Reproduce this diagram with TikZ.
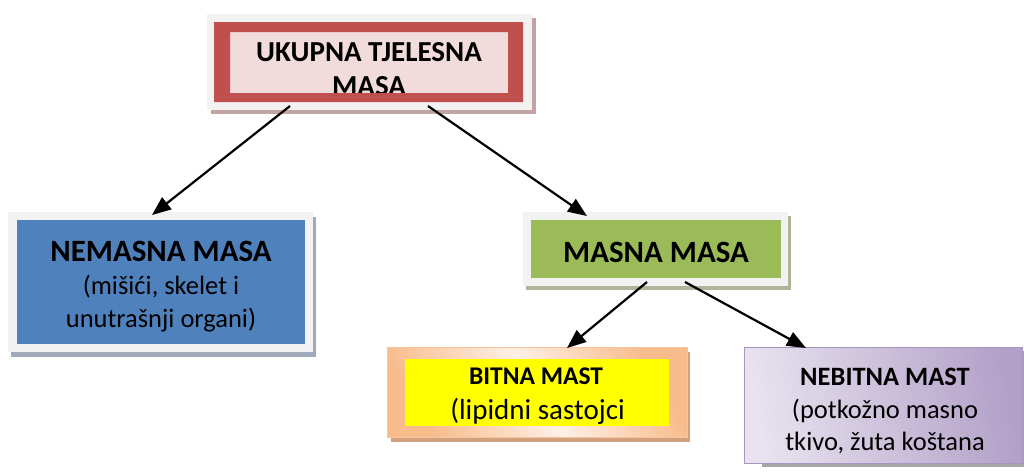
\documentclass[tikz,border=0pt]{standalone}
\usepackage{fontspec}
\setmainfont{Carlito}
\usetikzlibrary{arrows.meta,calc}
\definecolor{framegray}{HTML}{F2F2F2}
\definecolor{redc}{HTML}{C0504D}
\definecolor{pinkc}{HTML}{F2DCDB}
\definecolor{topshadow}{HTML}{C2A4A4}
\definecolor{bluec}{HTML}{4F81BD}
\definecolor{nemshadow}{HTML}{9FAABB}
\definecolor{greenc}{HTML}{9BBB59}
\definecolor{masshadow}{HTML}{AEB59B}
\definecolor{yellowc}{HTML}{FFFF00}
\definecolor{peachd}{HTML}{F8BC8C}
\definecolor{peachl}{HTML}{FDF0E6}
\definecolor{peachb}{HTML}{F5C4A0}
\definecolor{bitshadow}{HTML}{D2A07C}
\definecolor{lavl}{HTML}{E8E3EF}
\definecolor{lavd}{HTML}{B2A0C8}
\definecolor{lavb}{HTML}{A994C2}
\definecolor{nebshadow}{HTML}{A6A6A6}
\tikzset{
  boxframe/.style={rectangle, inner sep=0pt, outer sep=0pt},
  bigbold/.style={font=\fontsize{31}{36}\selectfont\bfseries, anchor=base, inner sep=0pt},
  topbold/.style={font=\fontsize{29}{34}\selectfont\bfseries, anchor=base, inner sep=0pt},
  smallbold/.style={font=\fontsize{25.5}{30}\selectfont\bfseries, anchor=base, inner sep=0pt},
  reg/.style={font=\fontsize{26.5}{32}\selectfont, anchor=base, inner sep=0pt},
  arr/.style={line width=2.2pt, -{Triangle[length=19pt,width=15pt]}},
}
\begin{document}
\begin{tikzpicture}[x=1pt,y=-1pt]
\useasboundingbox (0,0) rectangle (1024,472);
% ---- top box
\fill[topshadow] (211,18) rectangle (536,114);
\node[boxframe, fill=framegray, minimum width=325pt, minimum height=96pt] (top) at (369.5,62) {};
\fill[redc] (214,22) rectangle (523,102);
\fill[pinkc] (230,32) rectangle (508,93);
\node[topbold] (top1) at (369,61) {UKUPNA TJELESNA};
\node[topbold] (top2) at (369,95) {MASA};
\fill[redc, even odd rule] (214,22) rectangle (523,102) (230,32) rectangle (508,93);
% ---- nemasna
\fill[nemshadow] (11,217) rectangle (316,357);
\node[boxframe, fill=framegray, minimum width=305pt, minimum height=140pt] (nem) at (160.5,282) {};
\fill[bluec] (17,220) rectangle (305,344);
\node[bigbold] (nem1) at (161,261) {NEMASNA MASA};
\node[reg] (nem2) at (161,294) {(mišići, skelet i};
\node[reg] (nem3) at (161,327) {unutrašnji organi)};
% ---- masna
\fill[masshadow] (526,216) rectangle (791,290);
\node[boxframe, fill=framegray, minimum width=265pt, minimum height=74pt] (mas) at (655.5,249) {};
\fill[greenc] (531,220) rectangle (781,278);
\node[bigbold] (mas1) at (656,262) {MASNA MASA};
% ---- bitna
\fill[bitshadow] (391,352) rectangle (690,442);
\node[boxframe, draw=peachb, line width=1pt, left color=peachd, right color=peachd, middle color=peachl, shading angle=120, minimum width=300pt, minimum height=90pt] (bit) at (537,392) {};
\fill[yellowc] (405,359) rectangle (669,426);
\node[smallbold] (bit1) at (536,384) {BITNA MAST};
\node[reg, font=\fontsize{29}{34}\selectfont] (bit2) at (537.5,419) {(lipidni sastojci};
% ---- nebitna
\fill[nebshadow] (762,351) rectangle (1026,467);
\node[boxframe, draw=lavb, line width=0.8pt, left color=lavl, right color=lavd, shading angle=100, minimum width=278pt, minimum height=116pt] (neb) at (883,405) {};
\node[smallbold, font=\fontsize{26.5}{32}\selectfont\bfseries] (neb1) at (885,385) {NEBITNA MAST};
\node[reg] (neb2) at (885,418) {(potkožno masno};
\node[reg] (neb3) at (885,450) {tkivo, žuta koštana};
% ---- arrows
\draw[arr] ([xshift=-79.5pt,yshift=4pt]top.south) -- ([xshift=-8.5pt,yshift=-3pt]nem.north);
\draw[arr] ([xshift=58.5pt,yshift=4pt]top.south) -- ([xshift=-68.5pt,yshift=-4pt]mas.north);
\draw[arr] ([xshift=-8.5pt,yshift=4pt]mas.south) -- ([xshift=30pt,yshift=-1pt]bit.north);
\draw[arr] ([xshift=29.5pt,yshift=4pt]mas.south) -- ([xshift=-77pt,yshift=-1pt]neb.north);
\end{tikzpicture}
\end{document}
